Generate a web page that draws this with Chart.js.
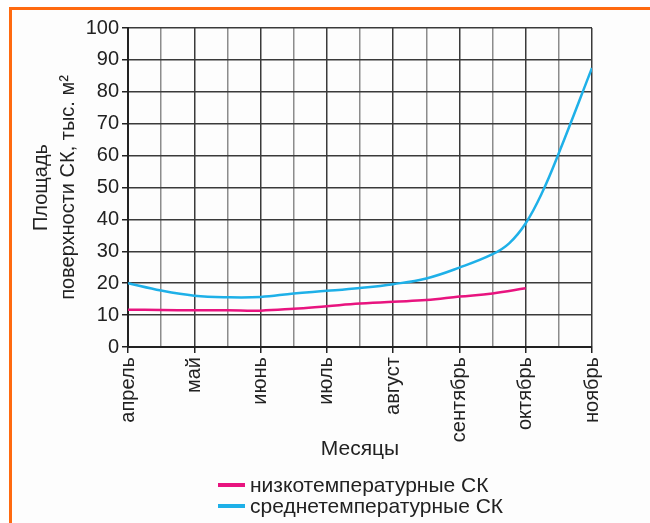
<!DOCTYPE html>
<html>
<head>
<meta charset="utf-8">
<script src="https://cdn.jsdelivr.net/npm/chart.js@4"></script>
<style>
body{margin:0;background:#fff}
#wrap{position:relative;width:650px;height:523px;overflow:hidden}
#frame{position:absolute;left:9px;top:7px;width:700px;height:600px;border-top:3px solid #ff6a10;border-left:3px solid #ff6a10;background:#fdfdfd}
canvas{position:absolute;left:0;top:0}
</style>
</head>
<body>
<div id="wrap"><div id="frame"></div><canvas id="myChart" width="650" height="523"></canvas></div>
<script>
// month labels on the x axis (half-month grid in between)
const months=['апрель','май','июнь','июль','август','сентябрь','октябрь','ноябрь']
const yTitle=['Площадь','поверхности СК, тыс. м²']
const xTitle='Месяцы'

// низкотемпературные СК
const lowX=[0,0.5,1,1.5,2,2.5,3,3.5,4,4.5,5,5.5,6]
const lowY=[11.7,11.6,11.5,11.5,11.4,12,12.8,13.6,14.2,14.7,15.8,16.8,18.4]
// среднетемпературные СК
const midX=[0,0.5,1,1.5,2,2.5,3,3.5,4,4.5,5,5.5,5.75,6,6.25,6.5,7]
const midY=[20,17.7,16.1,15.6,15.7,16.8,17.6,18.5,19.7,21.5,24.9,29.1,32.5,38.8,48.5,60.8,87.5]

const FONT='"Liberation Sans", Arial, sans-serif'
const toPts=(xs,ys)=>xs.map((x,i)=>({x:x,y:ys[i]}))

const extras={
  id:'extras',
  afterDraw(chart){
    const c=chart.ctx, a=chart.chartArea
    c.save()
    c.fillStyle='#222'
    c.font='21px '+FONT
    c.textAlign='center'
    c.textBaseline='middle'
    c.fillText(xTitle,(a.left+a.right)/2,449)
    // legend
    c.textAlign='left'
    chart.data.datasets.forEach((ds,i)=>{
      const y=485+21*i
      c.fillStyle=ds.borderColor
      c.fillRect(218,y-2,27,4)
      c.fillStyle='#222'
      c.fillText(ds.label,250,y+1)
    })
    // y title, two lines
    c.font='20px '+FONT
    c.textAlign='center'
    c.translate(41,(a.top+a.bottom)/2)
    c.rotate(-Math.PI/2)
    c.fillText(yTitle[0],0,0)
    c.fillText(yTitle[1],0,27)
    c.restore()
  }
}

const ctx=document.getElementById('myChart')
new Chart(ctx,{
  type:'line',
  data:{
    datasets:[{
      label:'низкотемпературные СК',
      data:toPts(lowX,lowY),
      borderColor:'#e8147f',
      borderWidth:2.5,
      pointRadius:0,
      tension:0.4
    },{
      label:'среднетемпературные СК',
      data:toPts(midX,midY),
      borderColor:'#1eb0e8',
      borderWidth:2.5,
      pointRadius:0,
      tension:0.4
    }]
  },
  options:{
    responsive:false,
    animation:false,
    layout:{padding:{left:0,top:28,right:58,bottom:0}},
    plugins:{legend:{display:false},tooltip:{enabled:false}},
    scales:{
      x:{
        type:'linear',min:0,max:7,
        afterFit:s=>{s.height=176},
        ticks:{
          stepSize:0.5,autoSkip:false,minRotation:90,maxRotation:90,padding:4,
          color:'#222',font:{size:20,family:FONT},
          callback:v=>Number.isInteger(v)?months[v]:''
        },
        grid:{
          color:c=>(c.tick&&c.tick.value%1)?'#8c8c8c':'#3a3a3a',
          tickColor:c=>(c.tick&&c.tick.value%1)?'rgba(0,0,0,0)':'#222',
          lineWidth:1.5,tickLength:6
        },
        border:{color:'#222',width:2}
      },
      y:{
        min:0,max:100,
        afterFit:s=>{s.width=128},
        ticks:{stepSize:10,padding:3,color:'#222',font:{size:20,family:FONT}},
        grid:{color:'#3a3a3a',lineWidth:1.5,tickLength:6,tickColor:'#222'},
        border:{color:'#222',width:2}
      }
    }
  },
  plugins:[extras]
})
</script>
</body>
</html>
